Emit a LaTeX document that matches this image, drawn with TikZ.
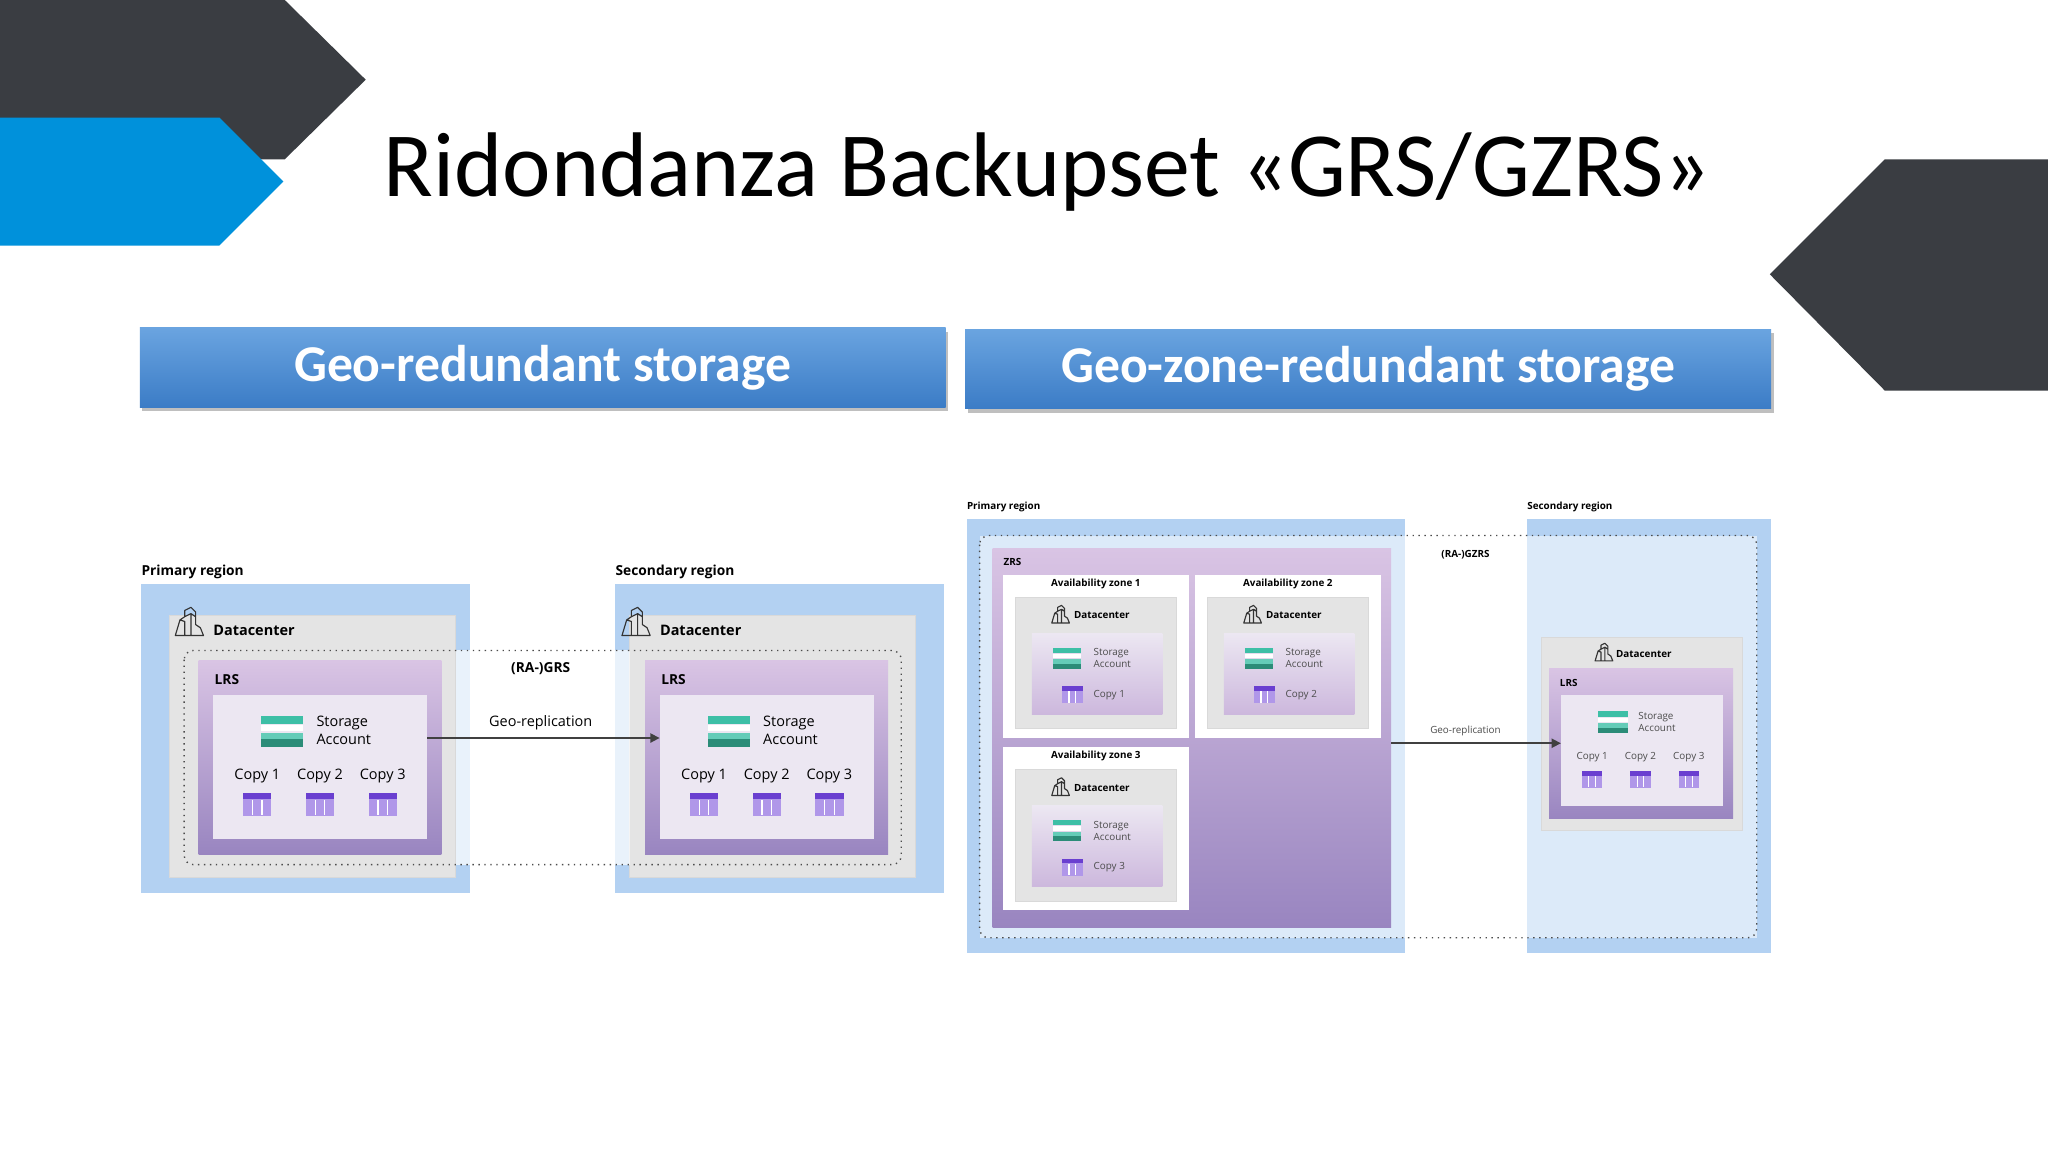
\documentclass[tikz,border=0pt]{standalone}
\usepackage{fontspec}
\setmainfont{Carlito}
\newfontfamily\dfont{Open Sans}
\usetikzlibrary{fit,arrows.meta}
\definecolor{darkg}{HTML}{3A3D42}
\definecolor{blu}{HTML}{0091DB}
\definecolor{regblue}{HTML}{B3D1F2}
\definecolor{dcgray}{HTML}{E4E4E4}
\definecolor{lrstop}{HTML}{D9C4E4}
\definecolor{lrsbot}{HTML}{9985C0}
\definecolor{innerc}{HTML}{ECE7F2}
\definecolor{teal}{HTML}{3DBFA6}
\definecolor{teald}{HTML}{2B8C78}
\definecolor{cpy}{HTML}{8E6BE0}
\definecolor{cpyd}{HTML}{6A3FD0}
\definecolor{hdrtop}{HTML}{6AA4E0}
\definecolor{hdrbot}{HTML}{3B7CC6}
\tikzset{
  box/.style={inner sep=0pt, outer sep=0pt, fit={#1}},
  region/.style={fill=regblue},
  band/.style={fill=white, fill opacity=0.72},
  dcbox/.style={fill=dcgray, draw=white!85!black, line width=0.3pt},
  lrsbox/.style={top color=lrstop, bottom color=lrsbot},
  innerbox/.style={fill=innerc},
  azbox/.style={fill=white},
  dashline/.style={draw=black!70, dotted, line width=0.6pt, rounded corners=4pt},
  hdr/.style={top color=hdrtop, bottom color=hdrbot},
  arr/.style={draw=black!75, line width=0.7pt, -{Triangle[length=4pt,width=4pt]}},
  lbl/.style={font=\dfont\bfseries\fontsize{#1}{#1}\selectfont, inner sep=0pt, anchor=west},
  txt/.style={font=\dfont\fontsize{#1}{#1}\selectfont, inner sep=0pt},
  pics/sa/.style={code={
    \fill[teal] (-8,-6) rectangle (8,-3);
    \fill[white] (-8,-2.5) rectangle (8,0);
    \fill[teal!80] (-8,0.5) rectangle (8,3);
    \fill[teald] (-8,3) rectangle (8,6);
  }},
  pics/cp/.style={code={
    \fill[cpy!70] (-6,-5) rectangle (6,5);
    \fill[cpyd] (-6,-5) rectangle (6,-2.5);
    \draw[white, line width=0.5pt] (-2,-2) -- (-2,4.5) (2,-2) -- (2,4.5);
  }},
  pics/dc/.style={code={
    \draw[black!80, line width=0.5pt, line join=round]
      (-9,8) -- (-6,-2) -- (-3,-4) -- (-3,-8) -- (1,-10) -- (4,-7) -- (4,1) -- (7,3) -- (9,8) -- cycle
      (-3,-4) -- (1,-6) -- (4,-4) (1,-6) -- (1,8) (-6,-2) -- (-3,-1) -- (-3,8);
  }}
}
\begin{document}
\begin{tikzpicture}[x=0.02cm, y=-0.02cm]
\useasboundingbox (0,0) rectangle (1568,882);
\fill[white] (0,0) rectangle (1568,882);
% corner decorations
\fill[darkg] (0,0) -- (218,0) -- (280,61) -- (218,122) -- (0,122) -- cycle;
\fill[blu] (0,90) -- (168,90) -- (217,139) -- (168,188) -- (0,188) -- cycle;
\fill[darkg] (1568,122) -- (1443,122) -- (1355,210) -- (1443,299) -- (1568,299) -- cycle;
\node[font=\fontsize{40}{40}\selectfont, inner sep=0pt] (title) at (802,132) {Ridondanza Backupset «GRS/GZRS»};
% headers
\fill[black!25] (109,254) rectangle (726,315);
\fill[black!25] (741,255) rectangle (1358,316);
\node[box={(107,251)(724,312)}, hdr] (h1) {};
\node[box={(739,252)(1356,313)}, hdr] (h2) {};
\node[font=\bfseries\fontsize{22.5}{22.5}\selectfont, text=white] (h1t) at (h1.center) {Geo-redundant storage};
\node[font=\bfseries\fontsize{22.5}{22.5}\selectfont, text=white] (h2t) at (h2.center) {Geo-zone-redundant storage};

% ===== GRS diagram
\node[lbl=6] (pr1) at (108,438) {Primary region};
\node[lbl=6] (sr1) at (471,438) {Secondary region};
\node[box={(108,447)(360,684)}, region] (regA) {};
\node[box={(471,447)(723,684)}, region] (regB) {};
\node[box={(130,471)(349,672)}, dcbox] (dcA) {};
\node[box={(482,471)(701,672)}, dcbox] (dcB) {};
\node[box={(349,498)(482,662)}, band] (bandA) {};
\node[box={(152,506)(338,654)}, lrsbox] (lrsA) {};
\node[box={(494,506)(680,654)}, lrsbox] (lrsB) {};
\node[box={(163,532)(327,642)}, innerbox] (inA) {};
\node[box={(505,532)(669,642)}, innerbox] (inB) {};
\foreach \n/\x in {A/0,B/342}{
  \pic[scale=1.2] at (145+\x,477) {dc};
  \node[lbl=6.3] (dcl\n) at (163+\x,483) {Datacenter};
  \node[lbl=6] (lrsl\n) at (164+\x,520) {LRS};
  \pic[scale=2] at (216+\x,560) {sa};
  \node[txt=6.3, align=left, anchor=west] (sat\n) at (242+\x,559) {Storage\\[1.6pt]Account};
  \foreach \k/\dx in {1/0,2/48,3/96}{
    \node[txt=6.3] (c\n\k) at (197+\x+\dx,594) {Copy \k};
    \pic[scale=1.8] at (197+\x+\dx,616) {cp};
  }
}
\path[dashline] (141,498) rectangle (690,662);
\node[lbl=6, anchor=center] (ragrs) at (414,512) {(RA-)GRS};
\node[txt=6.3] (geoA) at (414,553) {Geo-replication};
\draw[arr] ([yshift=12.5pt]inA.east) -- ([yshift=12.5pt]inB.west);

% ===== GZRS diagram
\node[lbl=4.3] (pr2) at (740,388) {Primary region};
\node[lbl=4.3] (sr2) at (1169,388) {Secondary region};
\node[box={(740,397)(1076,730)}, region] (regC) {};
\node[box={(1169,397)(1356,730)}, region] (regD) {};
\node[box={(750,410)(1345,718)}, fill=white, fill opacity=0.55] (bandC) {};
\node[box={(760,420)(1065,710)}, lrsbox] (zrs) {};
\node[lbl=4.3] (zrsl) at (768,430) {ZRS};
\foreach \n/\x/\y in {1/0/0,2/147/0,3/0/132}{
  \node[box={(768+\x,440+\y)(910+\x,565+\y)}, azbox] (az\n) {};
  \node[lbl=4.3, anchor=center] (azl\n) at (839+\x,447+\y) {Availability zone \n};
  \node[box={(777+\x,457+\y)(901+\x,558+\y)}, dcbox] (dcz\n) {};
  \node[box={(790+\x,485+\y)(890+\x,547+\y)}, lrsbox, top color=innerc, bottom color=lrstop!80!lrsbot] (inz\n) {};
  \pic[scale=0.75] at (812+\x,471+\y) {dc};
  \node[lbl=4.3] (dczl\n) at (822+\x,471+\y) {Datacenter};
  \pic[scale=1.35] at (817+\x,504+\y) {sa};
  \node[txt=4.3, align=left, anchor=west, text=black!70] (saz\n) at (837+\x,504+\y) {Storage\\[1pt]Account};
  \pic[scale=1.3] at (821+\x,532+\y) {cp};
  \node[txt=4.3, anchor=west, text=black!70] (cz\n) at (837+\x,532+\y) {Copy \n};
}
\node[box={(1180,488)(1334,636)}, dcbox] (dcD) {};
\node[box={(1186,512)(1327,627)}, lrsbox] (lrsD) {};
\node[box={(1195,532)(1319,617)}, innerbox] (inD) {};
\pic[scale=0.75] at (1228,500) {dc};
\node[lbl=4.3] (dcDl) at (1237,501) {Datacenter};
\node[lbl=4.3] (lrsDl) at (1194,523) {LRS};
\pic[scale=1.4] at (1235,553) {sa};
\node[txt=4.3, align=left, anchor=west, text=black!70] (saD) at (1254,553) {Storage\\[1pt]Account};
\foreach \k/\dx in {1/0,2/37,3/74}{
  \node[txt=4.3, text=black!70] (cD\k) at (1219+\dx,580) {Copy \k};
  \pic[scale=1.3] at (1219+\dx,597) {cp};
}
\path[dashline] (750,410) rectangle (1345,718);
\node[lbl=4.3, anchor=center] (ragzrs) at (1122,425) {(RA-)GZRS};
\node[txt=4.3, text=black!70] (geoC) at (1122,560) {Geo-replication};
\draw[arr] ([yshift=-2.3pt]zrs.east) -- ([yshift=-2.3pt]zrs.east -| inD.west);
\end{tikzpicture}
\end{document}
